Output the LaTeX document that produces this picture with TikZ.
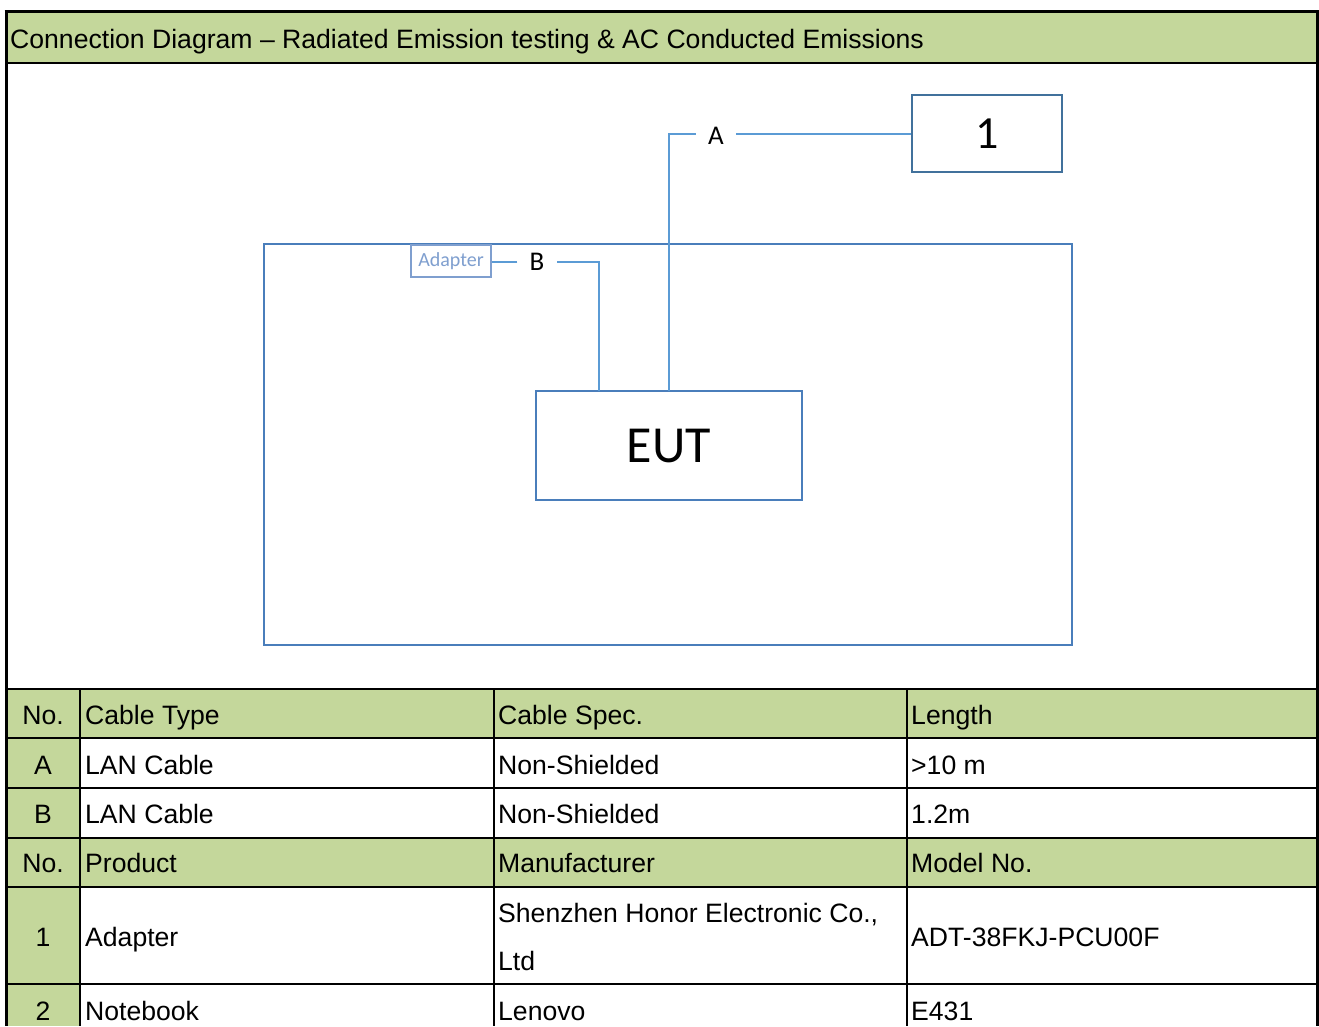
\documentclass[tikz,border=0pt]{standalone}
\usepackage{fontspec}
\setmainfont{Liberation Sans}
\newfontfamily\calibrifont{Carlito}
\definecolor{hdrgreen}{HTML}{C4D79B}
\definecolor{boxblue}{HTML}{4A7EBB}
\definecolor{darkblue}{HTML}{41719C}
\definecolor{cableblue}{HTML}{5B9BD5}
\definecolor{adaptblue}{HTML}{7F9FCF}
\tikzset{
  frame/.style={black, line width=3pt},
  grid/.style={black, line width=2.2pt},
  tabtxt/.style={inner sep=0pt, font=\fontsize{26.6}{30}\selectfont},
  lt/.style={tabtxt, anchor=base west},
  ct/.style={tabtxt, anchor=base},
  cable/.style={cableblue, line width=2pt},
  eqbox/.style={draw=boxblue, line width=2pt, inner sep=0pt},
  lbl/.style={inner sep=0pt, font=\calibrifont\fontsize{27}{30}\selectfont},
}
\begin{document}
\begin{tikzpicture}[x=1pt,y=-1pt]
\useasboundingbox (0,0) rectangle (1319,1026);
% fills
\fill[white] (0,0) rectangle (1319,1026);
\fill[hdrgreen] (6,11) rectangle (1317,63);
\fill[hdrgreen] (6,689) rectangle (1317,738);
\fill[hdrgreen] (6,838) rectangle (1317,887);
\fill[hdrgreen] (6,738) rectangle (80,1026);
% title
\node[lt] (title) at (10,48) {Connection Diagram – Radiated Emission testing \& AC Conducted Emissions};
% diagram
\node[eqbox, minimum width=808pt, minimum height=401pt] (room) at (668,444.5) {};
\node[eqbox, minimum width=266pt, minimum height=109pt, font=\calibrifont\fontsize{52}{56}\selectfont] (eut) at (669,445.5) {EUT};
\node[draw=darkblue, line width=2.2pt, minimum width=150pt, minimum height=77pt, inner sep=0pt, font=\calibrifont\fontsize{46}{50}\selectfont] (one) at (987,133.5) {1};
\node[draw=adaptblue, line width=1.6pt, minimum width=80pt, minimum height=32pt, inner sep=0pt, text=adaptblue, font=\calibrifont\fontsize{20}{22}\selectfont] (adapter) at (451,261) {Adapter};
\node[lbl] (lA) at (716,136) {A};
\node[lbl] (lB) at (537,262) {B};
\coordinate (eutA) at (669,391);
\coordinate (eutB) at (599,391);
\coordinate (cA) at (669,134);
\coordinate (cB) at (599,262);
\draw[cable] (eutA) -- (cA) -- ([xshift=-12pt]lA.west |- cA);
\draw[cable] ([xshift=12pt]lA.east |- cA) -- (one.west |- cA);
\draw[cable] (eutB) -- (cB) -- ([xshift=12pt]lB.east |- cB);
\draw[cable] ([xshift=-12pt]lB.west |- cB) -- (adapter.east |- cB);
% table lines
\foreach \yy in {63,689,738,788,838,887,984} \draw[grid] (6,\yy) -- (1317,\yy);
\foreach \xx in {80,494,907} \draw[grid] (\xx,689) -- (\xx,1026);
\draw[frame] (4.5,11) -- (1319,11);
\draw[frame] (6,11) -- (6,1026);
\draw[frame] (1317,11) -- (1317,1026);
% table text
\node[ct] (n0) at (43,724.5) {No.};
\node[lt] (c0a) at (85,724.5) {Cable Type};
\node[lt] (c0b) at (498,724.5) {Cable Spec.};
\node[lt] (c0c) at (911,724.5) {Length};
\node[ct] (n1) at (43,774) {A};
\node[lt] (c1a) at (85,774) {LAN Cable};
\node[lt] (c1b) at (498,774) {Non-Shielded};
\node[lt] (c1c) at (911,774) {>10 m};
\node[ct] (n2) at (43,823.5) {B};
\node[lt] (c2a) at (85,823.5) {LAN Cable};
\node[lt] (c2b) at (498,823.5) {Non-Shielded};
\node[lt] (c2c) at (911,823.5) {1.2m};
\node[ct] (n3) at (43,872.5) {No.};
\node[lt] (c3a) at (85,872.5) {Product};
\node[lt] (c3b) at (498,872.5) {Manufacturer};
\node[lt] (c3c) at (911,872.5) {Model No.};
\node[ct] (n4) at (43,946) {1};
\node[lt] (c4a) at (85,946) {Adapter};
\node[lt] (c4b) at (498,922) {Shenzhen Honor Electronic Co.,};
\node[lt] (c4b2) at (498,970) {Ltd};
\node[lt] (c4c) at (911,946) {ADT-38FKJ-PCU00F};
\node[ct] (n5) at (43,1020) {2};
\node[lt] (c5a) at (85,1020) {Notebook};
\node[lt] (c5b) at (498,1020) {Lenovo};
\node[lt] (c5c) at (911,1020) {E431};
\end{tikzpicture}
\end{document}
